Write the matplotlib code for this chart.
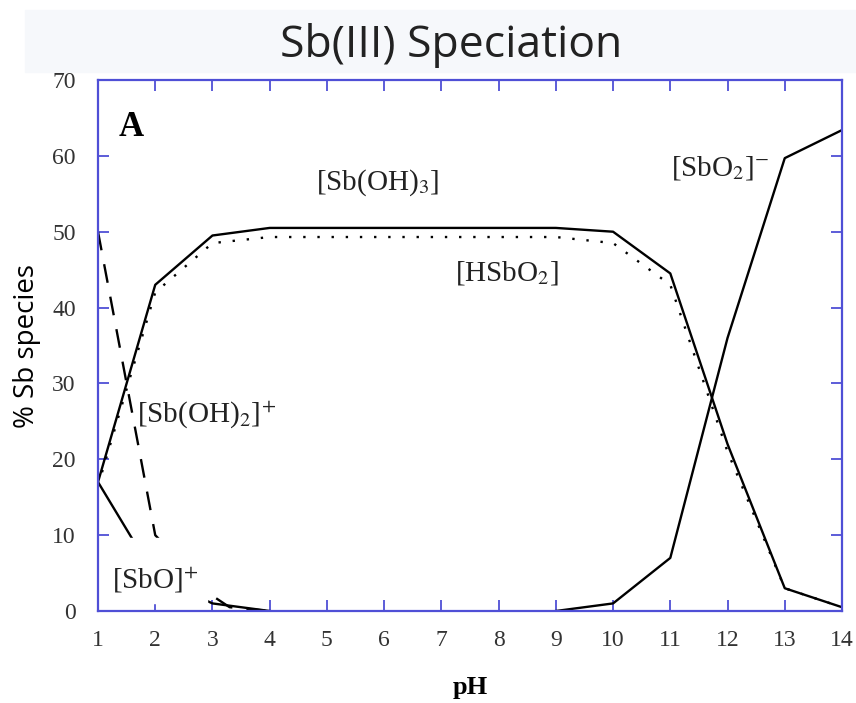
import matplotlib.pyplot as plt
from matplotlib.patches import Rectangle

plt.rcParams['mathtext.fontset'] = 'stix'

ph = [1, 2, 3, 4, 5, 6, 7, 8, 9, 10, 11, 12, 13, 14]

# percentages
sb_oh3 = [17, 43, 49.5, 50.5, 50.5, 50.5, 50.5, 50.5, 50.5, 50, 44.5, 22, 3, 0.5]
hsbo2 = [16.5, 42, 48.5, 49.3, 49.3, 49.3, 49.3, 49.3, 49.3, 48.5, 43, 21, 3, 0.5]
sbo2_ph = [9, 10, 11, 12, 13, 14]
sbo2 = [0, 1, 7, 36, 59.7, 63.4]
sb_oh2_ph = [1, 2, 3, 3.3, 4]
sb_oh2 = [50, 10, 2, 0.5, 0]
sbo_ph = [1, 2, 3, 3.5, 4]
sbo = [17, 4.5, 1, 0.5, 0]

blue = '#4f4fd6'
serif = 'Liberation Serif'

fig = plt.figure(figsize=(8.56, 7.03), dpi=100)
fig.patches.append(Rectangle((25 / 856, 1 - 72 / 703), 1, 62 / 703,
                             transform=fig.transFigure, color='#f6f8fb', zorder=-5))
fig.text(0.527, 1 - 46 / 703, 'Sb(III) Speciation', ha='center', va='center',
         fontsize=32, family='Open Sans', color='#222222')

ax = fig.add_axes([98 / 856, 1 - 611 / 703, (842 - 98) / 856, (611 - 80) / 703])

ax.plot(ph, sb_oh3, color='black', lw=1.7)
ax.plot(ph, hsbo2, color='black', lw=1.7, ls=(0, (1, 5)))
ax.plot(sbo2_ph, sbo2, color='black', lw=1.7)
ax.plot(sb_oh2_ph, sb_oh2, color='black', lw=1.7, ls=(0, (8, 6)))
ax.plot(sbo_ph, sbo, color='black', lw=1.7)

# white patch behind the [SbO]+ label, as in the original figure
ax.add_patch(Rectangle((1.05, 1.0), 1.85, 8.6, color='white', zorder=3))

lab = dict(family=serif, fontsize=21, color='#222222', ha='center', va='center', zorder=4)
ax.text(1.58, 63.7, 'A', family=serif, fontsize=25, fontweight='bold', ha='center', va='center')
ax.text(5.88, 56.4, r'[Sb(OH)$_3$]', **lab)
ax.text(8.15, 44.6, r'[HSbO$_2$]', **lab)
ax.text(11.87, 58.4, r'[SbO$_2$]$^{-}$', **lab)
ax.text(2.9, 25.8, r'[Sb(OH)$_2$]$^{+}$', **lab)
ax.text(2.0, 4.0, r'[SbO]$^{+}$', **lab)

ax.set_xlim(1, 14)
ax.set_ylim(0, 70)
ax.set_xticks(range(1, 15))
ax.set_yticks(range(0, 71, 10))
for s in ax.spines.values():
    s.set_color(blue)
    s.set_linewidth(1.6)
ax.tick_params(direction='in', length=8, width=1.3, color=blue,
               top=True, right=True, labelsize=17, labelcolor='#333333', pad=14)
ax.tick_params(axis='y', pad=16)
for t in ax.get_xticklabels() + ax.get_yticklabels():
    t.set_family(serif)

ax.set_xlabel('pH', family=serif, fontsize=19, fontweight='bold', labelpad=18)
ax.set_ylabel('% Sb species', family='Open Sans', fontsize=20, labelpad=8)

fig.savefig('out.png', dpi=100)
